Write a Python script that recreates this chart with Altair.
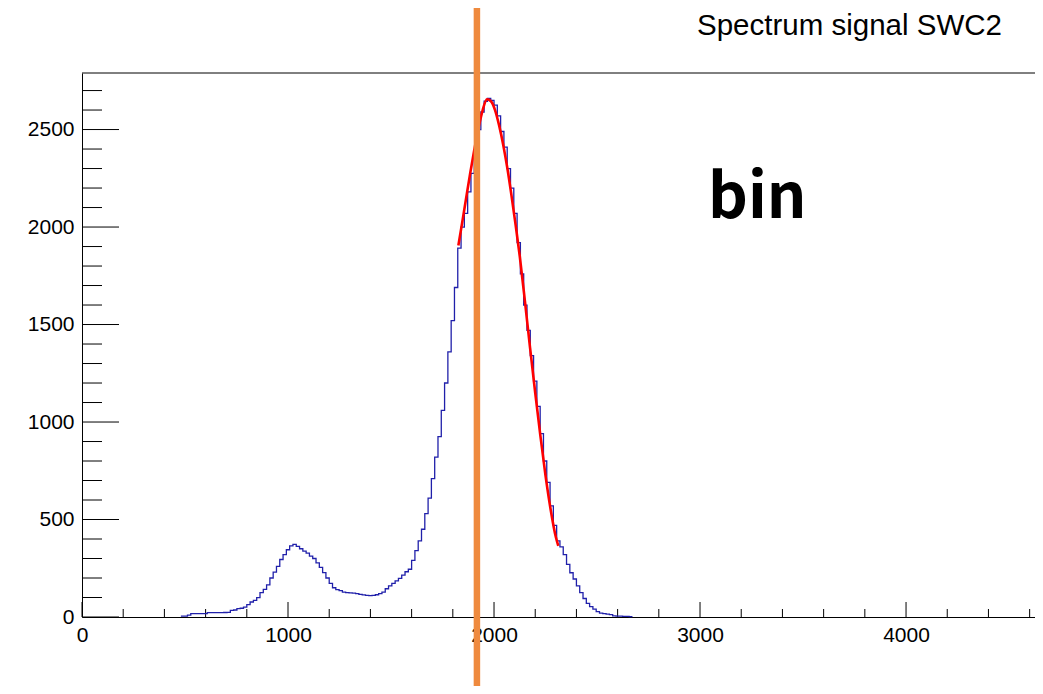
import altair as alt
import pandas as pd

TITLE = ["Spectrum signal SWC2"]
ANNOTATION = ["bin"]

# histogram: bins of width 16 starting at 480
BIN_START = 480
BIN_WIDTH = 16
COUNTS = [
    5, 5, 10, 17, 17, 17, 17, 17, 22, 22, 22, 22, 22, 23, 24, 34,
    36, 43, 45, 51, 63, 77, 85, 99, 125, 142, 165, 200, 230, 260, 295, 320,
    345, 365, 372, 362, 350, 338, 328, 312, 300, 278, 255, 228, 200, 172, 150, 140,
    135, 128, 125, 124, 122, 120, 116, 113, 111, 110, 111, 114, 120, 128, 145, 160,
    172, 185, 198, 215, 232, 245, 290, 340, 390, 450, 530, 610, 710, 820, 925, 1060,
    1200, 1360, 1520, 1690, 1892, 2000, 2070, 2180, 2275, 2380, 2500, 2590, 2645, 2660, 2650, 2625,
    2570, 2490, 2410, 2300, 2200, 2070, 1920, 1760, 1600, 1470, 1340, 1210, 1080, 940, 800, 690,
    570, 470, 390, 360, 320, 270, 227, 195, 160, 125, 95, 70, 53, 40, 28, 20,
    17, 15, 12, 6, 5, 4, 3, 3, 2,
]

# fitted curve
FIT_X = [1827, 1845, 1865, 1885, 1905, 1925, 1945, 1966, 1985, 2005, 2025, 2045,
         2065, 2085, 2105, 2125, 2150, 2175, 2200, 2225, 2250, 2275, 2300, 2312]
FIT_Y = [1905, 2020, 2150, 2280, 2400, 2510, 2600, 2655, 2645, 2600, 2520, 2420,
         2300, 2160, 2010, 1850, 1620, 1380, 1150, 930, 725, 550, 410, 365]

MARKER_X = [1917]

X_LABELS = [0, 1000, 2000, 3000, 4000]
X_MINOR = [200, 400, 600, 800, 1200, 1400, 1600, 1800, 2200, 2400, 2600, 2800,
           3200, 3400, 3600, 3800, 4200, 4400, 4600]
Y_LABELS = [0, 500, 1000, 1500, 2000, 2500]
Y_MINOR = [100, 200, 300, 400, 600, 700, 800, 900, 1100, 1200, 1300, 1400,
           1600, 1700, 1800, 1900, 2100, 2200, 2300, 2400, 2600, 2700]

X_DOMAIN = [0, 4626]
Y_DOMAIN = [0, 2790]

W, H = 953, 544
PAD_BOTTOM = 69

edges = [BIN_START + i * BIN_WIDTH for i in range(len(COUNTS) + 1)]
hist_df = pd.DataFrame({"x": edges, "y": COUNTS + [COUNTS[-1]]})
fit_df = pd.DataFrame({"x": FIT_X, "y": FIT_Y})

xscale = alt.Scale(domain=X_DOMAIN, nice=False, zero=False)
yscale = alt.Scale(domain=Y_DOMAIN, nice=False, zero=False)

xaxis = alt.Axis(values=X_LABELS, ticks=False, grid=False, domain=True,
                 domainColor="black", domainWidth=1, labelFont="Liberation Sans",
                 labelFontSize=21, labelColor="black", labelPadding=7,
                 labelFlush=False, labelOverlap=False, format="d")
yaxis = alt.Axis(values=Y_LABELS, ticks=False, grid=False, domain=True,
                 domainColor="black", domainWidth=1, labelFont="Liberation Sans",
                 labelFontSize=21, labelColor="black", labelPadding=8,
                 labelFlush=False, labelOverlap=False, format="d")

X = lambda: alt.X("x:Q", scale=xscale, axis=xaxis, title=None)
Y = lambda: alt.Y("y:Q", scale=yscale, axis=yaxis, title=None)

xt_major = alt.Chart(pd.DataFrame({"x": X_LABELS})).mark_rule(color="black", strokeWidth=1).encode(
    x=X(), y=alt.value(H), y2=alt.value(H - 15))
xt_minor = alt.Chart(pd.DataFrame({"x": X_MINOR})).mark_rule(color="black", strokeWidth=1).encode(
    x=X(), y=alt.value(H), y2=alt.value(H - 8))
yt_major = alt.Chart(pd.DataFrame({"y": Y_LABELS})).mark_rule(color="black", strokeWidth=1).encode(
    y=Y(), x=alt.value(0), x2=alt.value(37))
yt_minor = alt.Chart(pd.DataFrame({"y": Y_MINOR})).mark_rule(color="black", strokeWidth=1).encode(
    y=Y(), x=alt.value(0), x2=alt.value(20))

top_frame = alt.Chart(pd.DataFrame({"a": [0]})).mark_rule(color="black", strokeWidth=1).encode(
    x=alt.value(0), x2=alt.value(W), y=alt.value(0))

hist = alt.Chart(hist_df).mark_line(interpolate="step-after", color="#2020aa", strokeWidth=1.3).encode(
    x=X(), y=Y())
fit = alt.Chart(fit_df).mark_line(interpolate="monotone", color="#ff0000", strokeWidth=2.6).encode(
    x=X(), y=Y())

marker = alt.Chart(pd.DataFrame({"x": MARKER_X})).mark_rule(color="#EF8A3E", strokeWidth=6.5).encode(
    x=X(), y=alt.value(-65), y2=alt.value(H + PAD_BOTTOM))

title = alt.Chart(pd.DataFrame({"t": TITLE})).mark_text(
    font="Liberation Sans", fontSize=29.5, align="left", baseline="alphabetic", color="black").encode(
    x=alt.value(615), y=alt.value(-38), text="t:N")

ann = alt.Chart(pd.DataFrame({"t": ANNOTATION})).mark_text(
    font="Noto Sans CJK JP", fontWeight="bold", fontSize=62, align="left",
    baseline="alphabetic", color="black").encode(
    x=alt.value(626), y=alt.value(145), text="t:N")

chart = alt.layer(
    xt_major, xt_minor, yt_major, yt_minor, top_frame, hist, fit, marker, title, ann
).properties(
    width=W, height=H,
    padding={"left": 74, "top": 65, "right": 0, "bottom": PAD_BOTTOM},
    autosize=alt.AutoSizeParams(type="none"),
    background="white",
).configure_view(stroke="transparent")

chart.save("out.html", embed_options={"renderer": "svg", "actions": False})
